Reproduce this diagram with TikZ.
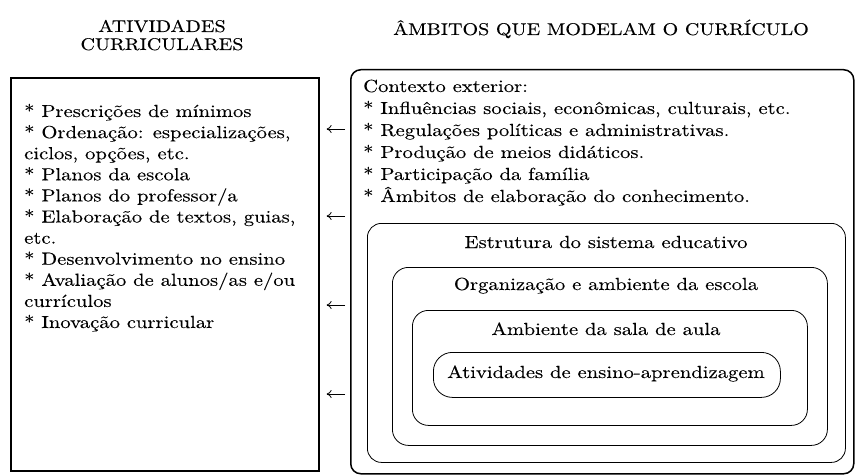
\documentclass[tikz,border=0pt]{standalone}
\usepackage{fontspec}
\setmainfont{lmroman10-regular.otf}[FakeStretch=1.18,FakeBold=0.12]
\usetikzlibrary{arrows.meta}

\begin{document}
\begin{tikzpicture}[x=1pt,y=1pt,yscale=-1,xscale=1,
		txt/.style={inner sep=0pt,font=\fontsize{17.5}{21}\selectfont},
		heading/.style={inner sep=0pt,font=\fontsize{17}{20}\selectfont},
		listbox/.style={draw,line width=1.6pt,inner sep=0pt,anchor=north west},
		outerbox/.style={draw,line width=1.5pt,rounded corners=10pt,inner sep=0pt,anchor=north west},
		ringbox/.style={draw,line width=0.8pt,rounded corners=#1,inner sep=0pt,anchor=north west},
		ringbox/.default=14pt,
		influence/.style={-{To[length=5pt,width=8pt]},line width=0.8pt,shorten <=5pt,shorten >=7pt}]
	%set diagram frame: 856 x 476
	\useasboundingbox (0,0) rectangle (856,476);

	% Text Node
	\node[heading,anchor=base] (actstitle) at (162,32) {ATIVIDADES};
	% Text Node
	\node[heading,anchor=base] (actstitleb) at (162,50) {CURRICULARES};
	% Text Node
	\node[heading,anchor=base] (ambtitle) at (601,35) {ÂMBITOS QUE MODELAM O CURRÍCULO};

	%Shape: Rectangle
	\node[listbox,minimum width=308pt,minimum height=393pt] (acts) at (10,77) {};
	%Shape: Rounded Rect
	\node[outerbox,minimum width=503pt,minimum height=404pt] (ambitos) at (350,69) {};
	%Shape: Rounded Rect
	\node[ringbox=14pt,minimum width=478pt,minimum height=239pt] (estrutura) at (367,223) {};
	%Shape: Rounded Rect
	\node[ringbox=16pt,minimum width=435pt,minimum height=178pt] (escola) at (392,267) {};
	%Shape: Rounded Rect
	\node[ringbox=16pt,minimum width=395pt,minimum height=115pt] (sala) at (412,310) {};
	%Shape: Rounded Rect
	\node[ringbox=19pt,minimum width=347pt,minimum height=45pt] (ensino) at (433,352) {};

	% Text Nodes: left list
	\foreach \line [count=\i] in {{* Prescrições de mínimos},{* Ordenação: especializações,},{ciclos, opções, etc.},{* Planos da escola},{* Planos do professor/a},{* Elaboração de textos, guias,},{etc.},{* Desenvolvimento no ensino},{* Avaliação de alunos/as e/ou},{currículos},{* Inovação curricular}}
		\node[txt,anchor=base west] (act\i) at (24,{117+21.1*(\i-1)}) {\line};

	% Text Nodes: outer context
	\foreach \line [count=\i] in {{Contexto exterior:},{* Influências sociais, econômicas, culturais, etc.},{* Regulações políticas e administrativas.},{* Produção de meios didáticos.},{* Participação da família},{* Âmbitos de elaboração do conhecimento.}}
		\node[txt,anchor=base west] (ctx\i) at (363,{92+22*(\i-1)}) {\line};

	% Text Node
	\node[txt,anchor=base] (estruturatxt) at (606,248) {Estrutura do sistema educativo};
	% Text Node
	\node[txt,anchor=base] (escolatxt) at (606,290) {Organização e ambiente da escola};
	% Text Node
	\node[txt,anchor=base] (salatxt) at (606,335) {Ambiente da sala de aula};
	% Text Node
	\node[txt,anchor=base] (ensinotxt) at (606,378) {Atividades de ensino-aprendizagem};

	%Straight Lines
	\foreach \y in {129,216,305,394}
		\draw[influence] (ambitos.west |- 0,\y) -- (acts.east |- 0,\y);

\end{tikzpicture}
\end{document}
